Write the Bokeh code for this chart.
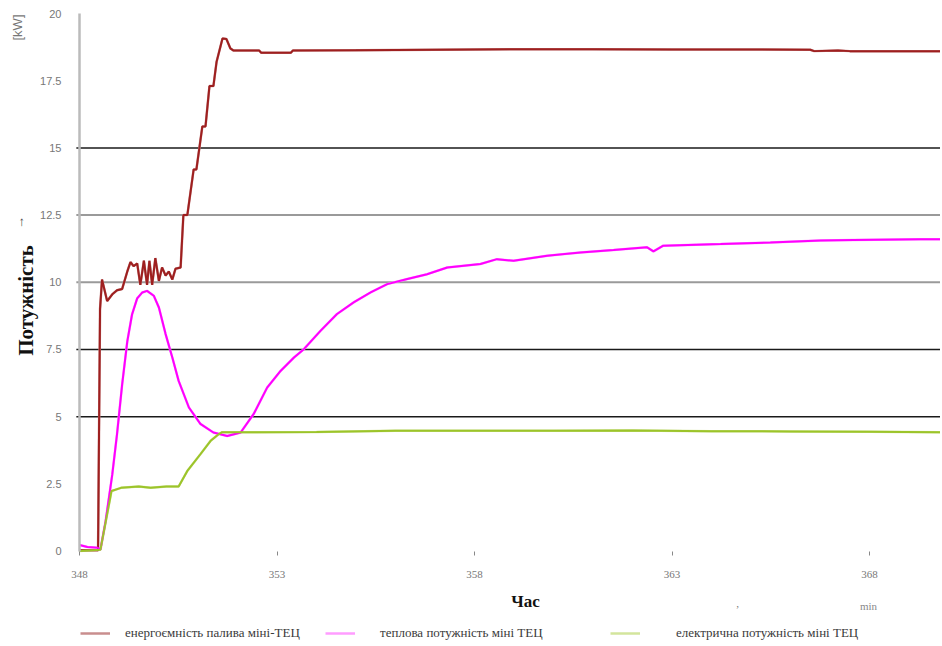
from bokeh.plotting import figure
from bokeh.models import Range1d, FixedTicker, Label, Legend, LegendItem, LinearAxis
from bokeh.embed import file_html
from bokeh.resources import INLINE
import math

# ---- data (minutes, kW) ----
t_fuel = [348.00, 348.47, 348.52, 348.57, 348.70, 348.83, 348.95, 349.08, 349.21, 349.29,
          349.37, 349.46, 349.54, 349.63, 349.71, 349.77, 349.84, 349.92, 350.01, 350.09,
          350.18, 350.26, 350.35, 350.43, 350.56, 350.63, 350.73, 350.89, 350.96, 351.11,
          351.19, 351.29, 351.39, 351.47, 351.62, 351.72, 351.82, 351.90, 352.55, 352.60,
          353.35, 353.40, 355.0, 357.0, 359.0, 361.0, 363.0, 365.0, 366.5, 366.6,
          367.2, 367.5, 369.8]
p_fuel = [0.03, 0.03, 9.0, 10.1, 9.3, 9.55, 9.7, 9.75, 10.4, 10.75,
          10.6, 10.7, 9.9, 10.8, 9.9, 10.8, 9.9, 10.9, 10.05, 10.55,
          10.25, 10.4, 10.1, 10.5, 10.55, 12.5, 12.5, 14.2, 14.2, 15.8,
          15.8, 17.3, 17.3, 18.2, 19.07, 19.05, 18.7, 18.62, 18.62, 18.54,
          18.54, 18.62, 18.63, 18.65, 18.67, 18.67, 18.66, 18.66, 18.65, 18.6,
          18.62, 18.6, 18.6]

t_heat = [348.00, 348.20, 348.46, 348.53, 348.66, 348.83, 348.95, 349.08, 349.21, 349.33,
          349.46, 349.59, 349.71, 349.88, 350.01, 350.18, 350.35, 350.51, 350.77, 351.06,
          351.39, 351.74, 352.08, 352.41, 352.75, 353.09, 353.43, 353.68, 354.10, 354.52,
          354.94, 355.37, 355.79, 356.30, 356.80, 357.31, 358.15, 358.57, 358.99, 359.84,
          360.68, 361.52, 362.37, 362.53, 362.78, 364.23, 365.49, 366.76, 367.59, 369.29,
          369.80]
p_heat = [0.22, 0.15, 0.12, 0.05, 1.1, 2.85, 4.35, 6.2, 7.8, 8.8,
          9.4, 9.62, 9.68, 9.5, 9.06, 8.07, 7.2, 6.33, 5.34, 4.73,
          4.41, 4.28, 4.41, 5.1, 6.08, 6.7, 7.2, 7.51, 8.19, 8.82,
          9.25, 9.62, 9.93, 10.12, 10.3, 10.55, 10.68, 10.86, 10.8, 10.99,
          11.11, 11.2, 11.3, 11.15, 11.36, 11.42, 11.48, 11.55, 11.57, 11.6,
          11.6]

t_el = [348.00, 348.53, 348.81, 349.05, 349.50, 349.80, 350.20, 350.51, 350.73, 351.06,
        351.32, 351.53, 351.61, 352.50, 354.0, 356.0, 358.0, 360.0, 362.0, 364.0,
        366.0, 368.0, 369.8]
p_el = [0.0, 0.05, 2.23, 2.35, 2.4, 2.35, 2.4, 2.4, 2.98, 3.6,
        4.1, 4.35, 4.42, 4.42, 4.43, 4.47, 4.47, 4.47, 4.48, 4.46,
        4.45, 4.44, 4.42]

x_ticks = [348, 353, 358, 363, 368]
y_ticks = [0, 2.5, 5, 7.5, 10, 12.5, 15, 17.5, 20]
x_min, x_max = 348, 369.8
y_min, y_max = 0, 20
grid_dark = [5, 7.5, 15]
grid_light = [10, 12.5]

names = ["енергоємність палива міні-ТЕЦ", "теплова потужність міні ТЕЦ", "електрична потужність міні ТЕЦ"]

W, H = 940, 644
X0, XS = 79.0, 39.5      # pixel of x_min, px per minute
Y0, YS = 550.5, 26.875   # pixel (from top) of y=0, px per kW

p = figure(width=W, height=H, output_backend="svg", toolbar_location=None,
           x_axis_location=None, y_axis_location=None,
           x_range=Range1d(x_min - X0 / XS, x_min + (W - X0) / XS),
           y_range=Range1d(-(H - Y0) / YS, Y0 / YS),
           min_border=0, min_border_left=0, min_border_right=0,
           min_border_top=0, min_border_bottom=0)
p.outline_line_color = None
p.xgrid.visible = False
p.ygrid.visible = False

# horizontal grid lines from the y axis to the right edge
p.segment(x0=[x_min - 0.08] * len(grid_dark), y0=grid_dark, x1=[x_max] * len(grid_dark), y1=grid_dark,
          line_color="#1a1a1a", line_width=1.5)
p.segment(x0=[x_min - 0.08] * len(grid_light), y0=grid_light, x1=[x_max] * len(grid_light), y1=grid_light,
          line_color="#9a9a9a", line_width=2)

# pale under-strokes (used as legend samples)
l1 = p.line(t_fuel, p_fuel, line_color="#c98e8e", line_width=2.5)
l2 = p.line(t_heat, p_heat, line_color="#ff9cff", line_width=2.5)
l3 = p.line(t_el, p_el, line_color="#d3e59c", line_width=2.5)

r1 = p.line(t_fuel, p_fuel, line_color="#9e1f1f", line_width=2)
r2 = p.line(t_heat, p_heat, line_color="#ff00ff", line_width=2)
r3 = p.line(t_el, p_el, line_color="#9cc42a", line_width=2)

# axes fixed at the data origin
xax = LinearAxis(fixed_location=y_min, bounds=(x_min, x_max), ticker=FixedTicker(ticks=x_ticks))
xax.axis_line_color = None
xax.major_tick_line_color = "#888888"
xax.major_tick_in = 0
xax.major_tick_out = 4
xax.minor_tick_line_color = None
xax.major_label_text_font = "Liberation Serif"
xax.major_label_text_font_size = "11px"
xax.major_label_text_color = "#777777"
xax.major_label_standoff = 16
p.add_layout(xax, "below")

yax = LinearAxis(fixed_location=x_min, bounds=(y_min, y_max), ticker=FixedTicker(ticks=y_ticks))
yax.axis_line_color = "#bbbbbb"
yax.axis_line_width = 2.5
yax.major_tick_line_color = None
yax.minor_tick_line_color = None
yax.major_label_text_font = "Liberation Sans"
yax.major_label_text_font_size = "11px"
yax.major_label_text_color = "#777777"
yax.major_label_standoff = 12
p.add_layout(yax, "left")


def txt(x, y_top, s, size="11px", color="#777777", font="Liberation Sans", bold=False, rot=False):
    p.add_layout(Label(x=x, y=H - y_top, x_units="screen", y_units="screen", text=s,
                       angle=math.pi / 2 if rot else 0, text_align="center", text_baseline="middle",
                       text_font=font, text_font_style="bold" if bold else "normal",
                       text_font_size=size, text_color=color))


txt(17, 27, "[kW]", size="13px", rot=True)
txt(19, 222, "→", size="13px", color="#444444", font="Liberation Serif", rot=True)
txt(25, 300, "Потужність", size="21px", color="#111111", font="Liberation Serif", bold=True, rot=True)
txt(525, 601, "Час", size="17px", color="#111111", font="Liberation Serif", bold=True)
txt(737, 603, ",", color="#777777", font="Liberation Serif")
txt(868, 605, "min", color="#888888", font="Liberation Serif")

# legends
for rend, name, loc, stand in [(l1, names[0], (80, 3), 15), (l2, names[1], (325, 3), 25),
                               (l3, names[2], (610, 3), 36)]:
    lg = Legend(items=[LegendItem(label=name, renderers=[rend])], location=loc,
                padding=0, margin=0, border_line_color=None, background_fill_alpha=0,
                glyph_width=30, glyph_height=14, label_height=14, label_standoff=stand,
                label_text_font="Liberation Serif", label_text_font_size="13px",
                label_text_color="#3a3a3a")
    p.add_layout(lg)

open("out.html", "w").write(file_html(p, INLINE))
